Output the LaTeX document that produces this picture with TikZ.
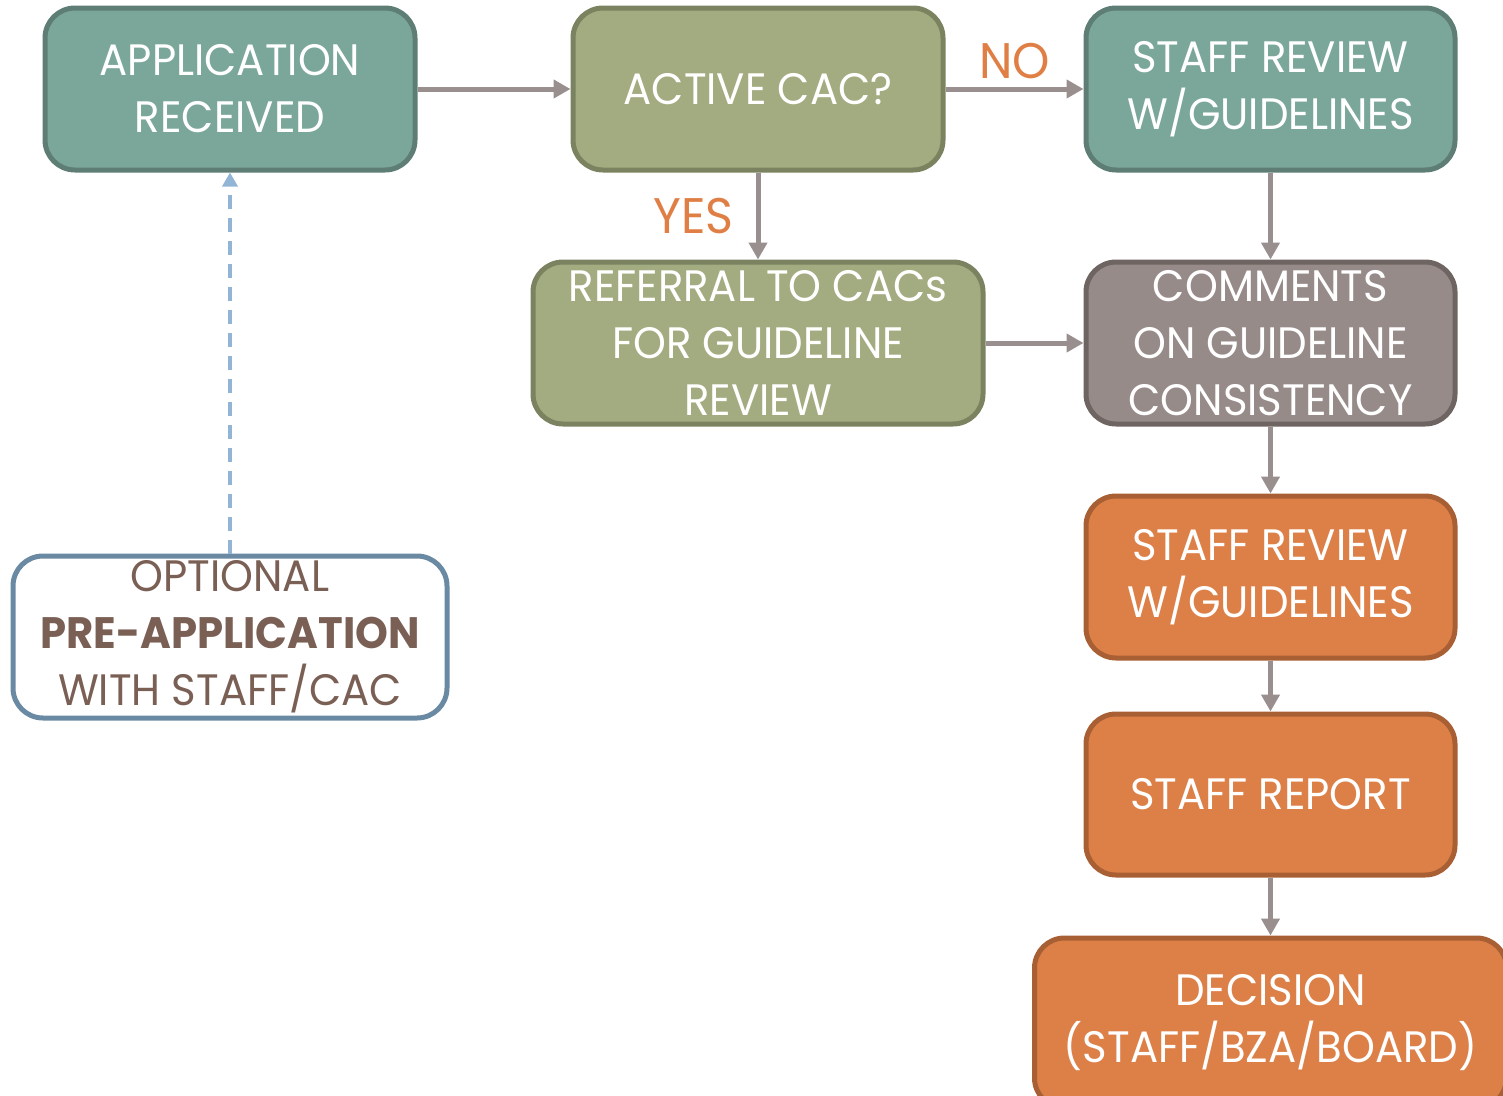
\documentclass[tikz,border=0pt]{standalone}
\usepackage{fontspec}
\setmainfont{Poppins}[FakeStretch=0.95]
\usetikzlibrary{arrows.meta}
\definecolor{tealF}{HTML}{7BA79B}
\definecolor{tealD}{HTML}{5E7D74}
\definecolor{oliveF}{HTML}{A3AC80}
\definecolor{oliveD}{HTML}{7B8260}
\definecolor{greyF}{HTML}{968B89}
\definecolor{greyD}{HTML}{6E6462}
\definecolor{orangeF}{HTML}{DD8048}
\definecolor{orangeD}{HTML}{A95F34}
\definecolor{blueD}{HTML}{6A89A2}
\definecolor{dashB}{HTML}{93B5D5}
\definecolor{arrowG}{HTML}{9A8F8F}
\definecolor{brownT}{HTML}{7A5F55}
\definecolor{labelO}{HTML}{E07F45}
\tikzset{
  box/.style={rectangle, rounded corners=30pt, line width=5pt, align=center,
    text=white, inner sep=0pt, minimum height=162pt,
    font=\fontsize{44}{57}\selectfont},
  tealbox/.style={box, fill=tealF, draw=tealD},
  olivebox/.style={box, fill=oliveF, draw=oliveD},
  greybox/.style={box, fill=greyF, draw=greyD},
  orangebox/.style={box, fill=orangeF, draw=orangeD},
  optbox/.style={box, fill=white, draw=blueD, text=brownT},
  flow/.style={draw=arrowG, line width=5pt, -{Triangle[length=17pt,width=18pt]}},
  dashflow/.style={draw=dashB, line width=3.5pt, dash pattern=on 14pt off 9pt, -{Triangle[length=14pt,width=15pt]}},
  lbl/.style={text=labelO, font=\fontsize{50}{57}\selectfont, inner sep=0pt}
}
\begin{document}
\begin{tikzpicture}[x=1pt,y=-1pt]
\useasboundingbox (0,0) rectangle (1503,1095);
\node[tealbox, minimum width=370pt] (app) at (230,89) {APPLICATION\\RECEIVED};
\node[olivebox, minimum width=370pt] (cac) at (758,89) {ACTIVE CAC?};
\node[tealbox, minimum width=369pt] (sr1) at (1270.5,89) {STAFF REVIEW\\W/GUIDELINES};
\node[olivebox, minimum width=450pt] (ref) at (758,343) {REFERRAL TO CACs\\FOR GUIDELINE\\REVIEW};
\node[greybox, minimum width=369pt] (com) at (1270.5,343) {COMMENTS\\ON GUIDELINE\\CONSISTENCY};
\node[orangebox, minimum width=369pt] (sr2) at (1270.5,577) {STAFF REVIEW\\W/GUIDELINES};
\node[orangebox, minimum width=369pt, minimum height=161pt] (rep) at (1270.5,794.5) {STAFF REPORT};
\node[orangebox, minimum width=472pt, minimum height=170pt] (dec) at (1270.5,1023) {DECISION\\(STAFF/BZA/BOARD)};
\node[optbox, minimum width=434pt] (opt) at (230,637) {OPTIONAL\\\textbf{PRE-APPLICATION}\\WITH STAFF/CAC};

\draw[flow] (app.east) -- (cac.west);
\draw[flow] (cac.east) -- node[lbl, above=8pt] (no) {NO} (sr1.west);
\draw[flow] (cac.south) -- node[lbl, left=22pt] (yes) {YES} (ref.north);
\draw[flow] (sr1.south) -- (com.north);
\draw[flow] (ref.east) -- (com.west);
\draw[flow] (com.south) -- (sr2.north);
\draw[flow] (sr2.south) -- (rep.north);
\draw[flow] (rep.south) -- (dec.north);
\draw[dashflow] (opt.north) -- (app.south);
\end{tikzpicture}
\end{document}
